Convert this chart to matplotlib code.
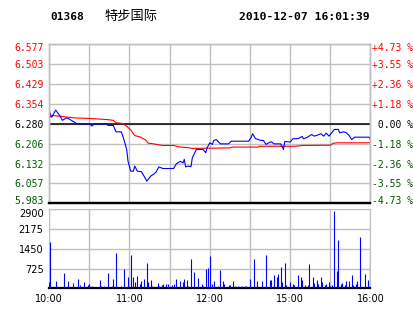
import matplotlib
matplotlib.use('Agg')
import matplotlib.pyplot as plt
import matplotlib.transforms as mtransforms
import numpy as np

# minutes since 10:00 (HK session 10:00-12:30, 14:30-16:00 -> 240 min)
price_t = [0, 2, 5, 8, 10, 13, 15, 17, 19, 21, 30, 32, 34, 43, 44, 48, 50, 54, 56, 58,
           59, 61, 63, 64, 66, 69, 71, 73, 76, 78, 80, 82, 85, 93, 95, 98, 100, 101, 102,
           104, 106, 107, 110, 115, 117, 118, 120, 122, 123, 125, 127, 128, 134, 136, 149,
           151, 152, 154, 158, 160, 162, 164, 166, 168, 173, 174, 175, 176, 180, 182, 186,
           189, 190, 193, 196, 198, 200, 203, 205, 207, 209, 211, 213, 216, 217, 220, 222,
           224, 226, 228, 239, 240]
price_v = [6.326, 6.305, 6.331, 6.311, 6.293, 6.302, 6.298, 6.292, 6.286, 6.280, 6.280,
           6.272, 6.280, 6.280, 6.274, 6.274, 6.250, 6.250, 6.220, 6.184, 6.140, 6.103,
           6.103, 6.122, 6.103, 6.101, 6.084, 6.066, 6.085, 6.091, 6.100, 6.119, 6.113,
           6.113, 6.130, 6.140, 6.134, 6.147, 6.119, 6.122, 6.120, 6.153, 6.184, 6.184,
           6.172, 6.190, 6.209, 6.203, 6.218, 6.221, 6.210, 6.205, 6.205, 6.215, 6.215,
           6.230, 6.243, 6.225, 6.218, 6.218, 6.203, 6.209, 6.213, 6.205, 6.205, 6.196,
           6.184, 6.214, 6.212, 6.224, 6.225, 6.233, 6.224, 6.230, 6.240, 6.234, 6.237,
           6.243, 6.234, 6.245, 6.234, 6.246, 6.259, 6.259, 6.246, 6.250, 6.246, 6.237,
           6.221, 6.230, 6.230, 6.221]

avg_t = [0, 1, 3, 12, 19, 30, 43, 48, 50, 55, 58, 61, 64, 68, 72, 74, 78, 85, 93, 97,
         105, 107, 135, 137, 156, 157, 184, 189, 210, 212, 215, 240]
avg_v = [6.346, 6.305, 6.311, 6.306, 6.302, 6.300, 6.296, 6.293, 6.284, 6.281, 6.271,
         6.257, 6.236, 6.231, 6.220, 6.208, 6.205, 6.199, 6.199, 6.194, 6.190, 6.188,
         6.190, 6.193, 6.193, 6.196, 6.196, 6.199, 6.200, 6.207, 6.209, 6.209]

vol_t = [0, 1, 5, 11, 14, 18, 22, 23, 26, 29, 30, 32, 38, 39, 41, 44, 47, 48, 50, 54,
         56, 59, 61, 63, 64, 66, 68, 69, 71, 73, 74, 76, 77, 81, 82, 84, 85, 87, 89, 92,
         93, 95, 98, 100, 101, 103, 104, 106, 108, 111, 114, 115, 117, 119, 120, 122, 123,
         126, 128, 130, 131, 134, 135, 137, 139, 141, 144, 146, 147, 150, 153, 155, 159,
         162, 165, 166, 168, 170, 171, 173, 174, 176, 177, 180, 182, 183, 186, 188, 189,
         191, 193, 194, 197, 198, 200, 201, 203, 204, 206, 207, 209, 210, 211, 213, 215,
         216, 218, 219, 221, 222, 224, 226, 227, 229, 230, 232, 236, 238, 240]
vol_v = [242, 1710, 268, 550, 268, 206, 341, 121, 242, 110, 158, 95, 305, 95, 95, 550,
         84, 341, 1307, 84, 708, 426, 1222, 426, 220, 451, 158, 268, 341, 917, 220, 305,
         84, 206, 84, 121, 158, 158, 158, 121, 158, 341, 268, 242, 341, 305, 84, 1075,
         609, 389, 158, 95, 708, 756, 1185, 158, 268, 84, 672, 268, 158, 121, 121, 268,
         84, 84, 84, 84, 84, 341, 1064, 268, 268, 1222, 305, 305, 488, 426, 525, 770, 231,
         940, 121, 231, 158, 121, 488, 426, 305, 121, 121, 892, 426, 206, 305, 158, 426,
         231, 121, 158, 231, 84, 121, 2837, 646, 1773, 158, 206, 121, 268, 268, 488, 121,
         158, 268, 1894, 525, 305, 1138]

prev_close = 6.280
price_labels = ['6.577', '6.503', '6.429', '6.354', '6.280', '6.206', '6.132', '6.057', '5.983']
pct_labels = ['+4.73 %', '+3.55 %', '+2.36 %', '+1.18 %', ' 0.00 %',
              '-1.18 %', '-2.36 %', '-3.55 %', '-4.73 %']
vol_ticks = [725, 1450, 2175, 2900]
time_labels = ['10:00', '', '11:00', '', '12:00', '', '15:00', '', '16:00']

RED, GREEN, BLUE, GRID = '#ff0000', '#005a00', '#0000ff', '#c0c0c0'
W, H = 414, 314


def rect(l, t, r, b):
    return [l / W, 1 - b / H, (r - l) / W, (b - t) / H]


def nudge(label, dy_px):
    off = mtransforms.ScaledTranslation(0, dy_px / 100, fig.dpi_scale_trans)
    label.set_transform(label.get_transform() + off)


fig = plt.figure(figsize=(W / 100, H / 100), dpi=100)
ax = fig.add_axes(rect(49, 44.3, 370.5, 203.3))
axv = fig.add_axes(rect(49, 209.3, 370.5, 288.3))

# price panel
half = 0.297
ax.set_xlim(0, 240)
ax.set_ylim(prev_close - half, prev_close + half)
levels = np.linspace(prev_close + half, prev_close - half, 9)
ax.set_yticks(levels)
ax.set_yticklabels(price_labels, family='DejaVu Sans Mono', fontsize=7)
ax.set_xticks(range(0, 241, 30))
ax.set_xticklabels([])
ax.grid(True, color=GRID, linewidth=1)
ax.set_axisbelow(True)
ax.tick_params(length=0, pad=4)

ax2 = ax.twinx()
ax2.set_ylim(ax.get_ylim())
ax2.set_yticks(levels)
ax2.set_yticklabels(pct_labels, family='DejaVu Sans Mono', fontsize=7)
ax2.tick_params(length=0, pad=1)

for a in (ax, ax2):
    labs = a.get_yticklabels()
    for i, lab in enumerate(labs):
        lab.set_color(RED if i < 4 else ('black' if i == 4 else GREEN))
    nudge(labs[0], -3)
    nudge(labs[-1], 3)
    for s in ('left', 'right', 'top'):
        a.spines[s].set_color(GRID)
        a.spines[s].set_linewidth(1)
    a.spines['bottom'].set_color('black')
    a.spines['bottom'].set_linewidth(1.6)

ax.axhline(prev_close, color='black', linewidth=1.1, zorder=2)
ax.plot(avg_t, avg_v, color=RED, linewidth=0.8, zorder=3)
ax.plot(price_t, price_v, color=BLUE, linewidth=0.8, zorder=4)

# volume panel
axv.set_xlim(0, 240)
axv.set_ylim(0, 2900)
axv.set_yticks(vol_ticks)
axv.set_yticklabels([str(v) for v in vol_ticks], fontsize=7)
axv.set_xticks(range(0, 241, 30))
axv.set_xticklabels(time_labels, fontsize=7)
axv.grid(True, color=GRID, linewidth=1)
axv.set_axisbelow(True)
axv.tick_params(length=0, pad=4)
for s in ('left', 'right', 'top'):
    axv.spines[s].set_color(GRID)
axv.spines['bottom'].set_color('black')
axv.spines['bottom'].set_linewidth(1.6)
nudge(axv.get_yticklabels()[-1], -4)
axv.vlines(vol_t, 0, vol_v, color=BLUE, linewidth=0.8, zorder=3)

# header
fig.text(50 / W, 1 - 17 / H, '01368', family='DejaVu Sans Mono', fontweight='bold',
         fontsize=8, ha='left', va='center')
fig.text(104 / W, 1 - 16 / H, '特步国际', family=['Noto Sans CJK SC', 'DejaVu Sans'],
         fontsize=9.5, ha='left', va='center')
fig.text(370 / W, 1 - 17 / H, '2010-12-07 16:01:39', family='DejaVu Sans Mono',
         fontweight='bold', fontsize=8.2, ha='right', va='center')

fig.savefig('out.png', dpi=100)
